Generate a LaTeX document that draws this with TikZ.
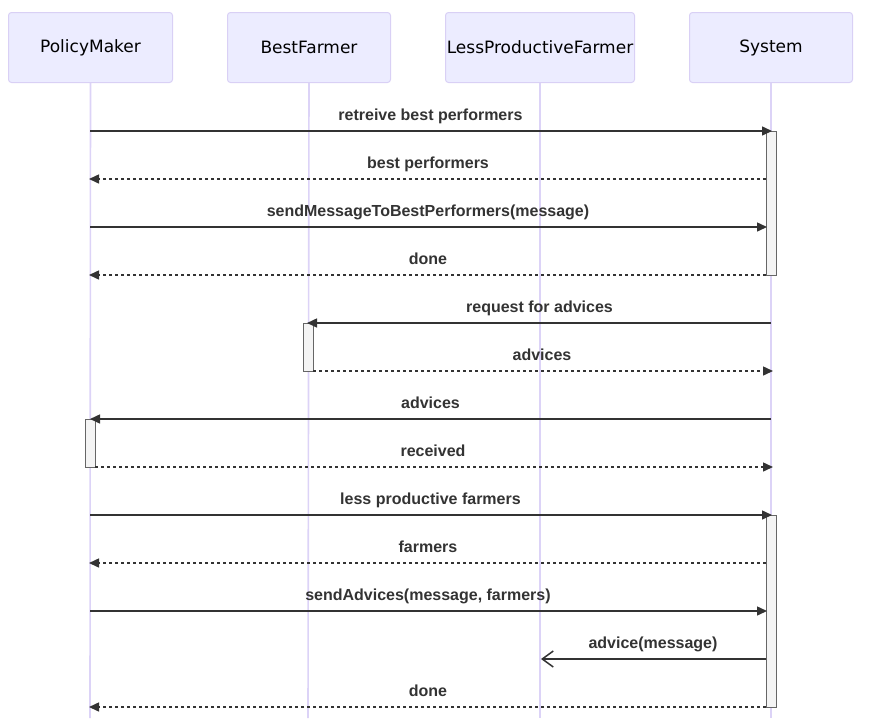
\documentclass[tikz,border=0pt]{standalone}
\usepackage{fontspec}
\setmainfont{Liberation Sans}
\newfontfamily\actorfont{DejaVu Sans}
\usetikzlibrary{arrows.meta}
\definecolor{actorfill}{HTML}{ECECFF}
\definecolor{actorline}{HTML}{D9D0F5}
\definecolor{lifecol}{HTML}{DCD3F7}
\definecolor{msgcol}{HTML}{333333}
\definecolor{actfill}{HTML}{F4F4F4}
\definecolor{actline}{HTML}{666666}
\begin{document}
\begin{tikzpicture}[x=1pt,y=-1pt,
  actor/.style={draw=actorline, fill=actorfill, rounded corners=3pt, line width=1pt,
    minimum height=70pt, inner sep=0pt, anchor=north west,
    font=\actorfont\fontsize{17}{20}\selectfont, text=black},
  lifeline/.style={draw=lifecol, line width=1.6pt},
  activation/.style={draw=actline, fill=actfill, line width=1pt, minimum width=10pt,
    inner sep=0pt, anchor=north},
  msg/.style={draw=msgcol, line width=1.5pt, -{Triangle[length=10pt,width=9pt]}},
  reply/.style={msg, dash pattern=on 3pt off 3pt},
  async/.style={draw=msgcol, line width=1.5pt, -{Straight Barb[length=11pt,width=16pt,line width=1.5pt]}},
  msglabel/.style={anchor=base, font=\bfseries\fontsize{16}{19}\selectfont, text=msgcol, inner sep=0pt}
]
\useasboundingbox (0,0) rectangle (876,718);

% participants
\node[actor, minimum width=164pt] (pm)  at (8,12)   {PolicyMaker};
\node[actor, minimum width=163pt] (bf)  at (227,12) {BestFarmer};
\node[actor, minimum width=189pt] (lpf) at (445,12) {LessProductiveFarmer};
\node[actor, minimum width=163pt] (sys) at (689,12) {System};

% lifeline ends
\coordinate (pmEnd)  at (90,718);
\coordinate (bfEnd)  at (308,718);
\coordinate (lpfEnd) at (540,718);
\coordinate (sysEnd) at (771,718);
\begin{scope}[on background layer/.style={}]
\draw[lifeline] (pm.south)  -- (pmEnd);
\draw[lifeline] (bf.south)  -- (bfEnd);
\draw[lifeline] (lpf.south) -- (lpfEnd);
\draw[lifeline] (sys.south) -- (sysEnd);
\end{scope}

% activation bars
\node[activation, minimum height=144pt] (actA) at (771,131) {};
\node[activation, minimum height=48pt]  (actB) at (308,323) {};
\node[activation, minimum height=48pt]  (actC) at (90,419)  {};
\node[activation, minimum height=192pt] (actD) at (771,515) {};

% message end points on the lifelines
\coordinate (pm1) at (90,131);  \coordinate (sys1) at (772,131);
\coordinate (pm2) at (89,179);  \coordinate (sys2) at (766,179);
\coordinate (pm3) at (90,227);  \coordinate (sys3) at (767,227);
\coordinate (pm4) at (89,275);  \coordinate (sys4) at (766,275);
\coordinate (bf5) at (307,323); \coordinate (sys5) at (771,323);
\coordinate (bf6) at (313,371); \coordinate (sys6) at (773,371);
\coordinate (pm7) at (90,419);  \coordinate (sys7) at (771,419);
\coordinate (pm8) at (95,467);  \coordinate (sys8) at (773,467);
\coordinate (pm9) at (90,515);  \coordinate (sys9) at (772,515);
\coordinate (pm10) at (89,563); \coordinate (sys10) at (766,563);
\coordinate (pm11) at (90,611); \coordinate (sys11) at (767,611);
\coordinate (lpf12) at (541,659); \coordinate (sys12) at (766,659);
\coordinate (pm13) at (89,707); \coordinate (sys13) at (766,707);

% messages
\draw[msg]   (pm1) -- (sys1);
\node[msglabel] (l1) at (430.5,120) {retreive best performers};
\draw[reply] (sys2) -- (pm2);
\node[msglabel] (l2) at (428,168) {best performers};
\draw[msg]   (pm3) -- (sys3);
\node[msglabel] (l3) at (428,216) {sendMessageToBestPerformers(message)};
\draw[reply] (sys4) -- (pm4);
\node[msglabel] (l4) at (428,264) {done};
\draw[msg]   (sys5) -- (bf5);
\node[msglabel] (l5) at (539.5,312) {request for advices};
\draw[reply] (bf6) -- (sys6);
\node[msglabel] (l6) at (542,360) {advices};
\draw[msg]   (sys7) -- (pm7);
\node[msglabel] (l7) at (430.5,408) {advices};
\draw[reply] (pm8) -- (sys8);
\node[msglabel] (l8) at (433,456) {received};
\draw[msg]   (pm9) -- (sys9);
\node[msglabel] (l9) at (430.5,504) {less productive farmers};
\draw[reply] (sys10) -- (pm10);
\node[msglabel] (l10) at (428,552) {farmers};
\draw[msg]   (pm11) -- (sys11);
\node[msglabel] (l11) at (428,600) {sendAdvices(message, farmers)};
\draw[async] (sys12) -- (lpf12);
\node[msglabel] (l12) at (653,648) {advice(message)};
\draw[reply] (sys13) -- (pm13);
\node[msglabel] (l13) at (428,696) {done};
\end{tikzpicture}
\end{document}
